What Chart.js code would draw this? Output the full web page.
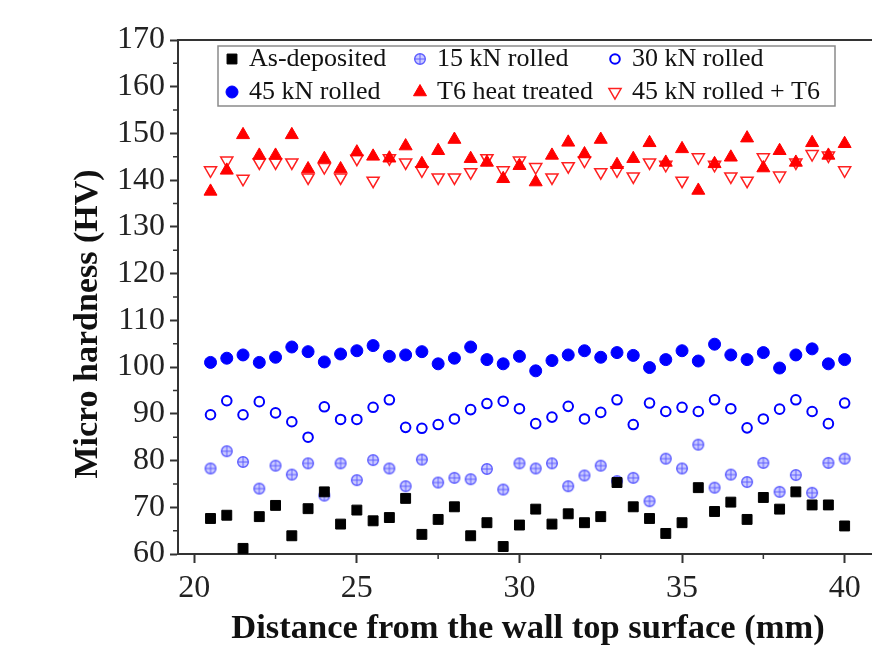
<!DOCTYPE html>
<html>
<head>
<meta charset="utf-8">
<script src="https://cdn.jsdelivr.net/npm/chart.js"></script>
<style>
  html, body { margin: 0; padding: 0; background: #fff; overflow: hidden; }
  #wrap { width: 872px; height: 648px; }
</style>
</head>
<body>
<div id="wrap"><canvas id="hardness" width="872" height="648"></canvas></div>
<script>
// distance from the wall top surface (mm)
const distance = [20.5, 21, 21.5, 22, 22.5, 23, 23.5, 24, 24.5, 25, 25.5, 26, 26.5, 27, 27.5, 28, 28.5, 29, 29.5, 30,
  30.5, 31, 31.5, 32, 32.5, 33, 33.5, 34, 34.5, 35, 35.5, 36, 36.5, 37, 37.5, 38, 38.5, 39, 39.5, 40];

// micro hardness (HV), one array per condition
const asDeposited = [67.6, 68.3, 61.2, 68.0, 70.4, 63.9, 69.7, 73.3, 66.4, 69.4, 67.1, 67.8, 71.9, 64.2, 67.4, 70.1, 63.9, 66.7, 61.6, 66.2,
  69.6, 66.4, 68.6, 66.7, 68.0, 75.3, 70.1, 67.6, 64.4, 66.7, 74.2, 69.1, 71.1, 67.4, 72.1, 69.6, 73.3, 70.5, 70.5, 66.0];
const rolled15 = [78.3, 82.0, 79.7, 74.0, 78.9, 77.0, 79.4, 72.5, 79.4, 75.8, 80.1, 78.3, 74.5, 80.2, 75.3, 76.3, 76.0, 78.2, 73.8, 79.4,
  78.3, 79.4, 74.5, 76.8, 78.9, 75.6, 76.3, 71.3, 80.4, 78.3, 83.4, 74.2, 77.0, 75.4, 79.5, 73.3, 76.9, 73.1, 79.5, 80.4];
const rolled30 = [89.8, 92.8, 89.8, 92.6, 90.2, 88.3, 85.0, 91.5, 88.8, 88.8, 91.4, 93.0, 87.1, 86.9, 87.7, 88.9, 90.9, 92.2, 92.7, 91.1,
  87.9, 89.3, 91.6, 88.9, 90.3, 93.0, 87.7, 92.3, 90.5, 91.4, 90.5, 93.0, 91.1, 87.0, 88.9, 91.0, 93.0, 90.5, 87.9, 92.3];
const rolled45 = [101.0, 101.9, 102.6, 101.0, 102.1, 104.3, 103.3, 101.1, 102.8, 103.5, 104.6, 102.3, 102.6, 103.3, 100.7, 101.9, 104.3, 101.6, 100.7, 102.3,
  99.2, 101.4, 102.6, 103.5, 102.1, 103.1, 102.5, 99.9, 101.6, 103.5, 101.3, 104.9, 102.6, 101.6, 103.1, 99.8, 102.6, 103.9, 100.7, 101.6];
const t6Treated = [137.6, 142.1, 149.7, 145.3, 145.3, 149.7, 142.4, 144.6, 142.4, 146.0, 145.1, 144.7, 147.3, 143.5, 146.3, 148.7, 144.6, 143.8, 140.3, 143.1,
  139.6, 145.3, 148.1, 145.6, 148.7, 143.3, 144.6, 148.0, 143.8, 146.7, 137.8, 143.5, 144.9, 149.0, 142.6, 146.3, 143.8, 148.0, 145.3, 147.8];
const rolled45T6 = [142.1, 144.2, 140.3, 143.8, 143.8, 143.8, 140.6, 142.8, 140.6, 144.6, 139.9, 144.7, 143.8, 142.1, 140.6, 140.6, 141.7, 144.7, 142.1, 144.2,
  142.8, 140.6, 143.0, 144.2, 141.7, 142.1, 140.8, 143.8, 143.3, 139.9, 144.9, 143.3, 140.8, 139.9, 144.9, 141.0, 143.8, 145.6, 145.3, 142.1];

const seriesNames = ["As-deposited", "15 kN rolled", "30 kN rolled", "45 kN rolled", "T6 heat treated", "45 kN rolled + T6"];
const xTicks = [20, 25, 30, 35, 40];
const yTicks = [60, 70, 80, 90, 100, 110, 120, 130, 140, 150, 160, 170];
const xTitle = "Distance from the wall top surface (mm)";
const yTitle = "Micro hardness (HV)";

// circle with a cross for the 15 kN marker
function crossCircle() {
  const c = document.createElement("canvas");
  c.width = 14; c.height = 14;
  const g = c.getContext("2d");
  g.beginPath();
  g.arc(7, 7, 5.3, 0, Math.PI * 2);
  g.fillStyle = "rgba(110,110,255,0.35)";
  g.fill();
  g.strokeStyle = "#5c5cff";
  g.lineWidth = 1.4;
  g.stroke();
  g.beginPath();
  g.moveTo(7, 2); g.lineTo(7, 12);
  g.moveTo(2, 7); g.lineTo(12, 7);
  g.lineWidth = 1;
  g.stroke();
  return c;
}

const pts = (vals) => vals.map((v, i) => ({ x: distance[i], y: v }));
const serif = '"Liberation Serif", "Times New Roman", serif';

const datasets = [
  { label: seriesNames[0], data: pts(asDeposited), pointStyle: "rect", pointRadius: 7, backgroundColor: "#000", borderColor: "#000", borderWidth: 1 },
  { label: seriesNames[1], data: pts(rolled15), pointStyle: crossCircle(), pointRadius: 6, backgroundColor: "rgba(110,110,255,0.35)", borderColor: "#5c5cff", borderWidth: 1.4 },
  { label: seriesNames[2], data: pts(rolled30), pointStyle: "circle", pointRadius: 4.8, backgroundColor: "#fff", borderColor: "#0000ff", borderWidth: 2 },
  { label: seriesNames[3], data: pts(rolled45), pointStyle: "circle", pointRadius: 6, backgroundColor: "#0000ff", borderColor: "#0000ff", borderWidth: 1 },
  { label: seriesNames[4], data: pts(t6Treated), pointStyle: "triangle", pointRadius: 7.5, backgroundColor: "#ff0000", borderColor: "#ff0000", borderWidth: 1 },
  { label: seriesNames[5], data: pts(rolled45T6), pointStyle: "triangle", pointRotation: 180, pointRadius: 7, backgroundColor: "rgba(255,255,255,0)", borderColor: "#ff2020", borderWidth: 1.5 }
];
datasets.forEach(d => { d.pointHoverRadius = d.pointRadius; });

// legend in a box, 3 columns x 2 rows
const boxLegend = {
  id: "boxLegend",
  afterDatasetsDraw(chart) {
    const ctx = chart.ctx;
    ctx.save();
    ctx.fillStyle = "#fff";
    ctx.fillRect(218, 46, 617, 60);
    ctx.strokeStyle = "#8a8a8a";
    ctx.lineWidth = 1.5;
    ctx.strokeRect(218, 46, 617, 60);
    const cols = [232, 420, 615];
    const rows = [59, 92];
    ctx.font = "26px " + serif;
    ctx.textBaseline = "middle";
    chart.data.datasets.forEach((ds, i) => {
      const cx = cols[i % 3], cy = rows[Math.floor(i / 3)];
      ctx.fillStyle = ds.backgroundColor;
      ctx.strokeStyle = ds.borderColor;
      ctx.lineWidth = ds.borderWidth;
      Chart.helpers.drawPoint(ctx, {
        pointStyle: ds.pointStyle, rotation: ds.pointRotation || 0,
        radius: ds.pointRadius, borderWidth: ds.borderWidth
      }, cx, cy);
      ctx.fillStyle = "#111";
      ctx.fillText(ds.label, cx + 17, cy);
    });
    ctx.restore();
  }
};

// frame lines running to the right edge, minor ticks, axis titles
const frame = {
  id: "frame",
  afterDraw(chart) {
    const { ctx, chartArea: a, scales: { x, y } } = chart;
    ctx.save();
    ctx.strokeStyle = "#333";
    ctx.lineWidth = 2;
    ctx.beginPath();
    ctx.moveTo(a.left - 1, a.top);
    ctx.lineTo(chart.width, a.top);
    ctx.moveTo(a.right - 1, a.bottom);
    ctx.lineTo(chart.width, a.bottom);
    ctx.stroke();
    ctx.lineWidth = 1.5;
    ctx.beginPath();
    for (let i = 0; i < xTicks.length - 1; i++) {
      const px = x.getPixelForValue((xTicks[i] + xTicks[i + 1]) / 2);
      ctx.moveTo(px, a.bottom);
      ctx.lineTo(px, a.bottom + 5);
    }
    for (let i = 0; i < yTicks.length - 1; i++) {
      const py = y.getPixelForValue((yTicks[i] + yTicks[i + 1]) / 2);
      ctx.moveTo(a.left, py);
      ctx.lineTo(a.left - 5, py);
    }
    ctx.stroke();

    ctx.fillStyle = "#111";
    ctx.textAlign = "center";
    ctx.textBaseline = "middle";
    ctx.font = "bold 34.5px " + serif;
    ctx.fillText(xTitle, 528, 629);
    ctx.translate(88, 324);
    ctx.rotate(-Math.PI / 2);
    ctx.font = "bold 34px " + serif;
    ctx.fillText(yTitle, 0, 0);
    ctx.restore();
  }
};

new Chart(document.getElementById("hardness"), {
  type: "scatter",
  data: { datasets: datasets },
  options: {
    responsive: false,
    animation: false,
    events: [],
    layout: { padding: { top: 40, right: 0, left: 0, bottom: 0 } },
    plugins: { legend: { display: false }, tooltip: { enabled: false } },
    scales: {
      x: {
        type: "linear",
        min: 19.5,
        max: 40.58,
        afterBuildTicks: s => { s.ticks = xTicks.map(v => ({ value: v })); },
        afterFit: s => { s.height = 94; },
        grid: { drawOnChartArea: false, drawTicks: true, tickLength: 9, tickColor: "#333", tickWidth: 2 },
        border: { display: true, color: "#333", width: 2 },
        ticks: { font: { family: serif, size: 32 }, color: "#222", padding: 6, maxRotation: 0, autoSkip: false },
        title: { display: false }
      },
      y: {
        type: "linear",
        min: 60,
        max: 170,
        afterBuildTicks: s => { s.ticks = yTicks.map(v => ({ value: v })); },
        afterFit: s => { s.width = 178; },
        grid: { drawOnChartArea: false, drawTicks: true, tickLength: 8, tickColor: "#333", tickWidth: 2 },
        border: { display: true, color: "#333", width: 2 },
        ticks: { font: { family: serif, size: 32 }, color: "#222", padding: 5, autoSkip: false },
        title: { display: false }
      }
    }
  },
  plugins: [boxLegend, frame]
});
</script>
</body>
</html>
